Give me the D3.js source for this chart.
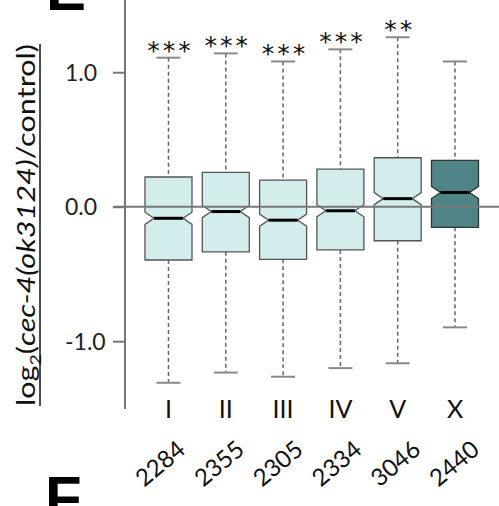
<!DOCTYPE html>
<html><head><meta charset="utf-8">
<script src="https://cdn.jsdelivr.net/npm/d3@7"></script>
<style>body{margin:0;background:#fff}svg{display:block}</style>
</head><body>
<script>
const categories = ["I","II","III","IV","V","X"];
const counts = ["2284","2355","2305","2334","3046","2440"];
const whiskerHigh = [1.108, 1.14, 1.08, 1.17, 1.26, 1.08];
const q3 = [0.221, 0.255, 0.198, 0.28, 0.364, 0.345];
const median = [-0.086, -0.036, -0.10, -0.03, 0.06, 0.106];
const q1 = [-0.396, -0.335, -0.391, -0.321, -0.253, -0.153];
const whiskerLow = [-1.309, -1.233, -1.264, -1.20, -1.164, -0.897];
const significance = ["***","***","***","***","**",""];
const isControl = [false,false,false,false,false,true];
const yTicks = [1.0, 0.0, -1.0];

const W = 499, H = 506;
const svg = d3.select("body").append("svg").attr("width", W).attr("height", H);
const font = "Lato, 'Open Sans', sans-serif";

const y = d3.scaleLinear().domain([-1.504, 1.537]).range([409, 0]);
const x = d3.scalePoint().domain(categories).range([168.5, 455]);
const xc = d3.scalePoint().domain(categories).range([187, 481]);
const boxW = 47, notchH = 0.045, notchIn = 9, capW = 24;

// panel letters (cropped at the edges as in the reference)
svg.append("text").attr("x", 46).attr("y", 10).attr("font-family","'Liberation Sans', Arial, sans-serif")
  .attr("font-weight","bold").attr("font-size",60).attr("fill","#000").text("E");
svg.append("text").attr("x", 45).attr("y", 518).attr("font-family","'Liberation Sans', Arial, sans-serif")
  .attr("font-weight","bold").attr("font-size",60).attr("fill","#000").text("F");

// y axis
const axisG = svg.append("g").attr("transform","translate(125,0)");
const yAxis = d3.axisLeft(y).tickValues(yTicks).tickSize(12).tickFormat(d3.format(".1f"));
axisG.call(yAxis);
axisG.select(".domain").attr("d", `M0,${y.range()[1]}V${y.range()[0]}`).attr("stroke","#777").attr("stroke-width",2);
axisG.selectAll(".tick line").attr("stroke","#777").attr("stroke-width",2);
axisG.selectAll(".tick text").attr("x", -60).attr("text-anchor","start").attr("dy","0.34em")
  .attr("font-family", font).attr("font-size", 23).attr("fill","#222")
  .text(d => d3.format(".1f")(d).replace("−","-"));

// y label
const lab = svg.append("text").attr("transform","translate(35,225) rotate(-90)")
  .attr("text-anchor","middle").attr("font-family", font).attr("font-size", 25).attr("fill","#111")
  .attr("textLength", 362).attr("lengthAdjust","spacingAndGlyphs");
lab.append("tspan").text("log");
lab.append("tspan").attr("font-size",16).attr("dy",6).text("2");
lab.append("tspan").attr("dy",-6).text("(");
lab.append("tspan").attr("font-style","italic").text("cec-4(ok3124)");
lab.append("tspan").text("/control)");
svg.append("line").attr("x1",40).attr("x2",40).attr("y1",44).attr("y2",406).attr("stroke","#111").attr("stroke-width",1.5);

// boxes
const data = categories.map((c,i)=>({c, i, hi:whiskerHigh[i], q3:q3[i], med:median[i], q1:q1[i], lo:whiskerLow[i], sig:significance[i], ctrl:isControl[i], n:counts[i]}));
const g = svg.append("g");
const bx = g.selectAll("g.box").data(data).join("g").attr("class","box");

bx.append("line").attr("x1",d=>x(d.c)).attr("x2",d=>x(d.c)).attr("y1",d=>y(d.hi)).attr("y2",d=>y(d.q3))
  .attr("stroke","#666").attr("stroke-width",1.5).attr("stroke-dasharray","4,3");
bx.append("line").attr("x1",d=>x(d.c)).attr("x2",d=>x(d.c)).attr("y1",d=>y(d.q1)).attr("y2",d=>y(d.lo))
  .attr("stroke","#666").attr("stroke-width",1.5).attr("stroke-dasharray","4,3");
bx.append("line").attr("x1",d=>x(d.c)-capW/2).attr("x2",d=>x(d.c)+capW/2).attr("y1",d=>y(d.hi)).attr("y2",d=>y(d.hi))
  .attr("stroke","#888").attr("stroke-width",2);
bx.append("line").attr("x1",d=>x(d.c)-capW/2).attr("x2",d=>x(d.c)+capW/2).attr("y1",d=>y(d.lo)).attr("y2",d=>y(d.lo))
  .attr("stroke","#888").attr("stroke-width",2);

bx.append("path").attr("d", d => {
  const x0 = x(d.c)-boxW/2, x1 = x(d.c)+boxW/2;
  const t = y(d.q3), b = y(d.q1), m = y(d.med), nu = y(d.med+notchH), nd = y(d.med-notchH);
  return `M${x0},${t}H${x1}V${nu}L${x1-notchIn},${m}L${x1},${nd}V${b}H${x0}V${nd}L${x0+notchIn},${m}L${x0},${nu}Z`;
}).attr("fill", d => d.ctrl ? "#508588" : "#d3eded")
  .attr("stroke", d => d.ctrl ? "#333" : "#555").attr("stroke-width",1.3);

bx.append("line").attr("x1",d=>x(d.c)-boxW/2+notchIn).attr("x2",d=>x(d.c)+boxW/2-notchIn)
  .attr("y1",d=>y(d.med)).attr("y2",d=>y(d.med)).attr("stroke","#000").attr("stroke-width",3);

// zero line drawn over the boxes
svg.append("line").attr("x1",113).attr("x2",W).attr("y1",y(0)).attr("y2",y(0))
  .attr("stroke","#777").attr("stroke-width",2);

// significance
bx.append("text").attr("x",d=>x(d.c)+2).attr("y",d=>y(d.hi)+1).attr("text-anchor","middle")
  .attr("font-family","'DejaVu Sans', sans-serif").attr("font-size",25).attr("letter-spacing",3).attr("fill","#111")
  .text(d=>d.sig);

// category labels
bx.append("text").attr("x",d=>x(d.c)).attr("y",418).attr("text-anchor","middle")
  .attr("font-family", font).attr("font-size",25).attr("fill","#111").text(d=>d.c);

// counts
bx.append("text").attr("transform",d=>`translate(${xc(d.c)},452) rotate(-40)`).attr("text-anchor","end")
  .attr("font-family", font).attr("font-size",24).attr("fill","#111").text(d=>d.n);
</script>
</body></html>
